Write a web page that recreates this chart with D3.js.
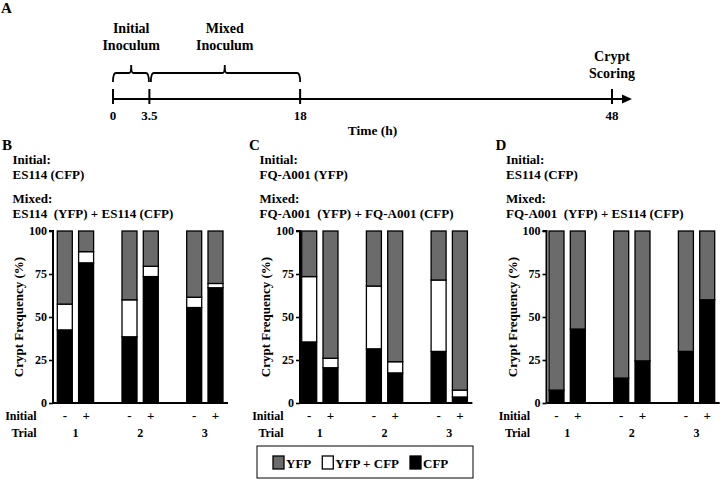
<!DOCTYPE html>
<html>
<head>
<meta charset="utf-8">
<script src="https://cdn.jsdelivr.net/npm/d3@7"></script>
<style>
  html, body { margin: 0; padding: 0; background: #fff; }
  svg text { font-family: "Liberation Serif", "Times New Roman", serif; font-weight: bold; fill: #000; }
</style>
</head>
<body>
<svg id="chart" width="720" height="480"></svg>
<script>
// ---------------- DATA ----------------
// Timeline (panel A)
const timePoints = [0, 3.5, 18, 48];
const timeTickLabels = ["0", "3.5", "18", "48"];
const phaseStarts = [0, 3.5];
const phaseEnds = [3.5, 18];
const phaseLabels = [["Initial", "Inoculum"], ["Mixed", "Inoculum"]];
const endLabel = ["Crypt", "Scoring"];
const timeAxisTitle = "Time (h)";

// Bar panels (B, C, D)
const panelLetters = ["B", "C", "D"];
const initialStrain = ["ES114 (CFP)", "FQ-A001 (YFP)", "ES114 (CFP)"];
const mixedStrains = ["ES114  (YFP) + ES114 (CFP)", "FQ-A001  (YFP) + FQ-A001 (CFP)", "FQ-A001  (YFP) + ES114 (CFP)"];
const trials = ["1", "2", "3"];
const initialFlags = ["-", "+"];
const yTicks = [0, 25, 50, 75, 100];
const yTitle = "Crypt Frequency (%)";
const seriesKeys = ["CFP", "YFP + CFP", "YFP"];
const legendOrder = ["YFP", "YFP + CFP", "CFP"];

// bar order: trial1 -, trial1 +, trial2 -, trial2 +, trial3 -, trial3 +
const cfpB  = [42.5, 81.5, 38.5, 73.5, 55.5, 67];
const bothB = [15, 6.5, 21.5, 6, 6, 2.5];
const yfpB  = [42.5, 12, 40, 20.5, 38.5, 30.5];

const cfpC  = [35.5, 20.5, 31.5, 17.5, 30, 3.5];
const bothC = [38, 5.5, 36.5, 6.5, 41.5, 4];
const yfpC  = [26.5, 74, 32, 76, 28.5, 92.5];

const cfpD  = [7.5, 43, 14.5, 24.5, 30, 60];
const bothD = [0, 0, 0, 0, 0, 0];
const yfpD  = [92.5, 57, 85.5, 75.5, 70, 40];

const panelValues = [
  [cfpB, bothB, yfpB],
  [cfpC, bothC, yfpC],
  [cfpD, bothD, yfpD]
];

// ---------------- STYLE / LAYOUT ----------------
const colors = { "YFP": "#6b6b6b", "YFP + CFP": "#ffffff", "CFP": "#000000" };
const axisXs = [53, 300, 546.5];
const barStarts = [57.3, 301.7, 549];

const svg = d3.select("#chart");

// ---------------- PANEL A ----------------
const tX = d3.scaleLinear().domain([0, 48]).range([113, 612]);
const axisY = 99;
const A = svg.append("g");
A.append("text").attr("x", 1).attr("y", 13).style("font-size", "15px").text("A");

A.append("line")
  .attr("x1", tX(0)).attr("x2", tX(48) + 14)
  .attr("y1", axisY).attr("y2", axisY)
  .attr("stroke", "#000").attr("stroke-width", 2.2);
A.append("path")
  .attr("d", `M${tX(48) + 10},${axisY - 4.5} L${tX(48) + 20},${axisY} L${tX(48) + 10},${axisY + 4.5} Z`)
  .attr("fill", "#000");

A.selectAll(".ttick").data(timePoints).enter().append("line")
  .attr("x1", d => tX(d)).attr("x2", d => tX(d))
  .attr("y1", axisY - 10).attr("y2", axisY + 5)
  .attr("stroke", "#000").attr("stroke-width", 2);

A.selectAll(".tlab").data(timePoints).enter().append("text")
  .attr("x", d => tX(d)).attr("y", 120)
  .attr("text-anchor", "middle").style("font-size", "13px")
  .text((d, i) => timeTickLabels[i]);

A.append("text")
  .attr("x", (tX(0) + tX(48) + 20) / 2).attr("y", 135)
  .attr("text-anchor", "middle").style("font-size", "13.5px")
  .text(timeAxisTitle);

// braces
const yb = 82, yh = 73, yp = 65, r = 3;
phaseStarts.forEach((s, i) => {
  const x1 = tX(s) + (i > 0 ? 1.5 : 0), x2 = tX(phaseEnds[i]) - (i === 0 ? 0.5 : 0);
  const xm = (tX(s) + tX(phaseEnds[i])) / 2;
  const p = `M${x1},${yb} Q${x1},${yh} ${x1 + r},${yh} L${xm - 2},${yh} Q${xm},${yh} ${xm},${yp}` +
            ` Q${xm},${yh} ${xm + 2},${yh} L${x2 - r},${yh} Q${x2},${yh} ${x2},${yb}`;
  A.append("path").attr("d", p).attr("fill", "none").attr("stroke", "#000").attr("stroke-width", 1.8);
  phaseLabels[i].forEach((t, j) => {
    A.append("text").attr("x", xm).attr("y", 32.5 + j * 17.5)
      .attr("text-anchor", "middle").style("font-size", "14px").text(t);
  });
});
endLabel.forEach((t, j) => {
  A.append("text").attr("x", tX(48)).attr("y", 61 + j * 17)
    .attr("text-anchor", "middle").style("font-size", "14px").text(t);
});

// ---------------- PANELS B, C, D ----------------
const y = d3.scaleLinear().domain([0, 100]).range([403, 231]);
const stack = d3.stack().keys(seriesKeys);

panelLetters.forEach((letter, pi) => {
  const ax = axisXs[pi];
  const g = svg.append("g");
  const vals = panelValues[pi];
  const rows = vals[0].map((_, k) => ({
    trial: trials[Math.floor(k / 2)], flag: initialFlags[k % 2],
    "CFP": vals[0][k], "YFP + CFP": vals[1][k], "YFP": vals[2][k]
  }));

  const xTrial = d3.scaleBand().domain(trials)
    .range([barStarts[pi], barStarts[pi] + 165.7]).paddingInner(0.439).paddingOuter(0);
  const xFlag = d3.scaleBand().domain(initialFlags)
    .range([0, xTrial.bandwidth()]).paddingInner(0.296).paddingOuter(0);

  // headers
  g.append("text").attr("x", ax - 51).attr("y", 150).style("font-size", "15px").text(letter);
  const hx = ax - 40.5;
  g.append("text").attr("x", hx).attr("y", 164).style("font-size", "13px").text("Initial:");
  g.append("text").attr("x", hx).attr("y", 179).style("font-size", "13px").text(initialStrain[pi]);
  g.append("text").attr("x", hx).attr("y", 203).style("font-size", "13px").text("Mixed:");
  g.append("text").attr("x", hx).attr("y", 218).attr("xml:space", "preserve")
    .style("white-space", "pre").style("font-size", "13px").text(mixedStrains[pi]);

  // bars
  const series = stack(rows);
  series.forEach(s => {
    g.selectAll(null).data(s).enter().append("rect")
      .attr("x", d => xTrial(d.data.trial) + xFlag(d.data.flag))
      .attr("width", xFlag.bandwidth())
      .attr("y", d => y(d[1]))
      .attr("height", d => y(d[0]) - y(d[1]))
      .attr("fill", colors[s.key])
      .attr("stroke", "#000")
      .attr("stroke-width", d => (d[1] - d[0]) > 0 ? 1.3 : 0);
  });

  // y axis
  const yAxis = d3.axisLeft(y).tickValues(yTicks).tickSize(4).tickPadding(2).tickFormat(d3.format("d"));
  const ya = g.append("g").attr("transform", `translate(${ax},0)`).call(yAxis);
  ya.select(".domain").attr("stroke-width", 2).attr("d", `M-4,${y(100)}H0V${y(0)}`);
  ya.selectAll(".tick line").attr("stroke-width", 1.6);
  ya.selectAll(".tick text").style("font-size", "12px")
    .style("font-family", "'Liberation Serif', serif").style("font-weight", "bold");

  // x baseline
  g.append("line").attr("x1", ax).attr("x2", xTrial("3") + xTrial.bandwidth() + 5)
    .attr("y1", y(0)).attr("y2", y(0)).attr("stroke", "#000").attr("stroke-width", 2);

  // y title
  g.append("text")
    .attr("transform", `translate(${ax - 30},${(y(0) + y(100)) / 2}) rotate(-90)`)
    .attr("text-anchor", "middle").style("font-size", "13px").text(yTitle);

  // category rows
  const lx = ax - 16.5;
  g.append("text").attr("x", lx).attr("y", 420).attr("text-anchor", "end").style("font-size", "12px").text("Initial");
  g.append("text").attr("x", lx).attr("y", 437).attr("text-anchor", "end").style("font-size", "12px").text("Trial");
  rows.forEach(d => {
    g.append("text").attr("x", xTrial(d.trial) + xFlag(d.flag) + xFlag.bandwidth() / 2).attr("y", 420)
      .attr("text-anchor", "middle").style("font-size", "13px").text(d.flag);
  });
  trials.forEach(t => {
    g.append("text").attr("x", xTrial(t) + xTrial.bandwidth() / 2).attr("y", 437)
      .attr("text-anchor", "middle").style("font-size", "12px").text(t);
  });
});

// ---------------- LEGEND ----------------
const lg = svg.append("g");
lg.append("rect").attr("x", 257).attr("y", 446).attr("width", 216).attr("height", 32)
  .attr("fill", "#fff").attr("stroke", "#000").attr("stroke-width", 1);
let cx = 273;
legendOrder.forEach(k => {
  lg.append("rect").attr("x", cx).attr("y", 456).attr("width", 11).attr("height", 13)
    .attr("fill", colors[k]).attr("stroke", "#000").attr("stroke-width", 1.3);
  const t = lg.append("text").attr("x", cx + 13).attr("y", 467.5).style("font-size", "13px").text(k);
  cx += 13 + t.node().getComputedTextLength() + 11;
});
</script>
</body>
</html>
